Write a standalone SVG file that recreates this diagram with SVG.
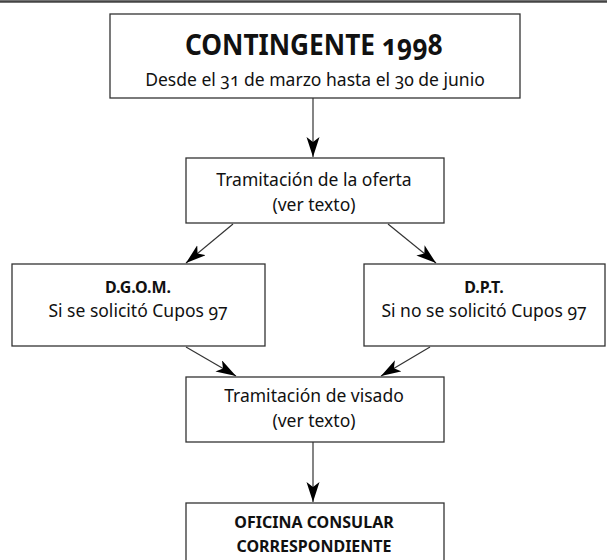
<svg xmlns="http://www.w3.org/2000/svg" width="607" height="560" viewBox="0 0 607 560">
<style>
.box{fill:#fff;stroke:#333;stroke-width:1.3}
.t{font-family:"Noto Sans","Open Sans",sans-serif;font-size:17.5px;fill:#111;text-anchor:middle;font-variant-numeric:oldstyle-nums}
.b{font-weight:bold;font-size:16px}
.big{font-size:28px;font-weight:bold}
.c{stroke:#333;stroke-width:1.2;fill:none;marker-end:url(#ah)}
</style>
<defs>
<marker id="ah" markerWidth="22" markerHeight="14" refX="20" refY="6.5" orient="auto" markerUnits="userSpaceOnUse">
<path d="M0,0 L20,6.5 L0,13 L5,6.5 Z" fill="#000"/>
</marker>
</defs>
<rect width="607" height="560" fill="#fff"/>
<line x1="0" y1="1.5" x2="607" y2="1.5" stroke="#444" stroke-width="2.5"/>
<g id="connectors">
<line class="c" x1="313" y1="98" x2="313" y2="157"/>
<line class="c" x1="233" y1="224" x2="186" y2="263"/>
<line class="c" x1="388" y1="224" x2="436" y2="263"/>
<line class="c" x1="186" y1="347" x2="236" y2="376"/>
<line class="c" x1="430" y1="347" x2="381" y2="376"/>
<line class="c" x1="313" y1="442" x2="313" y2="502"/>
</g>
<g id="contingente">
<rect class="box" x="110" y="14" width="410" height="84"/>
<text class="t big" x="314" y="55" textLength="258" lengthAdjust="spacingAndGlyphs">CONTINGENTE 1998</text>
<text class="t" x="315" y="86">Desde el 31 de marzo hasta el 30 de junio</text>
</g>
<g id="oferta">
<rect class="box" x="186" y="158" width="258" height="65"/>
<text class="t" x="314" y="186">Tramitación de la oferta</text>
<text class="t" x="314" y="211">(ver texto)</text>
</g>
<g id="dgom">
<rect class="box" x="12" y="264" width="253" height="82"/>
<text class="t b" x="138" y="293">D.G.O.M.</text>
<text class="t" x="138" y="317">Si se solicitó Cupos 97</text>
</g>
<g id="dpt">
<rect class="box" x="364" y="264" width="241" height="82"/>
<text class="t b" x="484" y="293">D.P.T.</text>
<text class="t" x="484" y="317">Si no se solicitó Cupos 97</text>
</g>
<g id="visado">
<rect class="box" x="186" y="377" width="258" height="65"/>
<text class="t" x="314" y="402">Tramitación de visado</text>
<text class="t" x="314" y="427">(ver texto)</text>
</g>
<g id="oficina">
<rect class="box" x="186" y="503" width="258" height="70"/>
<text class="t b" x="314" y="528">OFICINA CONSULAR</text>
<text class="t b" x="314" y="552">CORRESPONDIENTE</text>
</g>
</svg>
